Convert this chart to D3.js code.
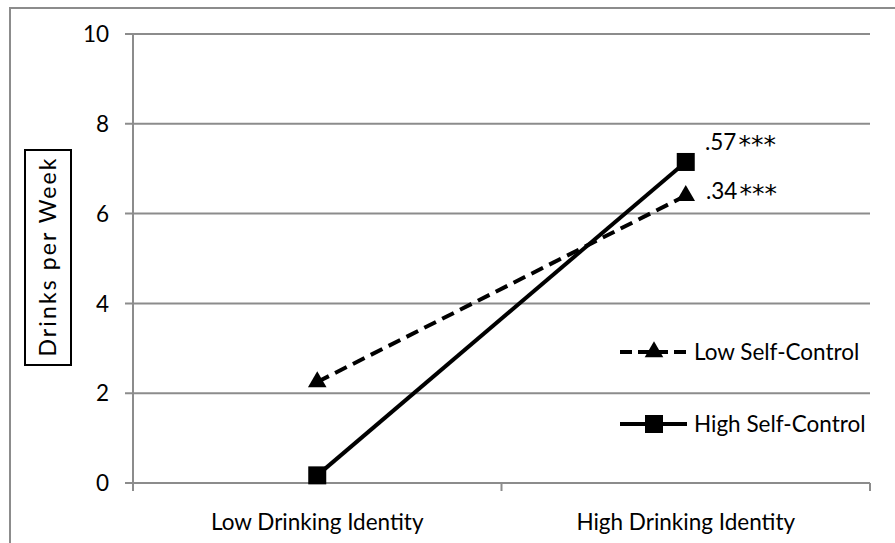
<!DOCTYPE html>
<html>
<head>
<meta charset="utf-8">
<script src="https://cdn.jsdelivr.net/npm/d3@7"></script>
<style>
  body { margin: 0; background: #fff; }
  text { font-family: Lato, "Open Sans", sans-serif; fill: #000; }
</style>
</head>
<body>
<script>
// chart data
var categories = ["Low Drinking Identity", "High Drinking Identity"];
var seriesNames = ["Low Self-Control", "High Self-Control"];
var lowSelfControl = [2.25, 6.4];
var highSelfControl = [0.17, 7.15];
var endLabels = [".34", ".57"];
var endStars = "***";
var yTicks = [0, 2, 4, 6, 8, 10];

var width = 895, height = 543;
var fontSize = "22.5px";

var svg = d3.select("body").append("svg")
    .attr("width", width)
    .attr("height", height);

// outer frame (runs off the right and bottom edge)
svg.append("path")
    .attr("d", "M10," + height + "V8H" + width)
    .attr("fill", "none")
    .attr("stroke", "#8c8c8c")
    .attr("stroke-width", 2);

var x0 = 133, x1 = 870;
var yScale = d3.scaleLinear().domain([0, 10]).range([483, 34]);
var xBand = d3.scaleBand().domain(categories).range([x0, x1]);
var xPos = function(i){ return xBand(categories[i]) + xBand.bandwidth() / 2; };

// gridlines
svg.append("g").selectAll("line")
    .data(yTicks)
    .enter().append("line")
    .attr("x1", x0 - 8).attr("x2", x1)
    .attr("y1", function(d){ return yScale(d); })
    .attr("y2", function(d){ return yScale(d); })
    .attr("stroke", "#8c8c8c")
    .attr("stroke-width", 2);

// y axis line
svg.append("line")
    .attr("x1", x0).attr("x2", x0)
    .attr("y1", yScale(10)).attr("y2", yScale(0) + 8)
    .attr("stroke", "#8c8c8c").attr("stroke-width", 2);

// x axis ticks
svg.append("g").selectAll("line")
    .data([x0, x0 + xBand.bandwidth(), x1])
    .enter().append("line")
    .attr("x1", function(d){ return d; }).attr("x2", function(d){ return d; })
    .attr("y1", yScale(0)).attr("y2", yScale(0) + 8)
    .attr("stroke", "#8c8c8c").attr("stroke-width", 2);

// y tick labels
svg.append("g").selectAll("text")
    .data(yTicks)
    .enter().append("text")
    .attr("x", 109)
    .attr("y", function(d){ return yScale(d); })
    .attr("dy", "0.36em")
    .attr("text-anchor", "end")
    .style("font-size", fontSize)
    .text(function(d){ return d; });

// category labels
svg.append("g").selectAll("text")
    .data(categories)
    .enter().append("text")
    .attr("x", function(d, i){ return xPos(i); })
    .attr("y", 530)
    .attr("text-anchor", "middle")
    .style("font-size", fontSize)
    .text(function(d){ return d; });

// y axis title in a box
var titleG = svg.append("g").attr("transform", "translate(48,257.5) rotate(-90)");
titleG.append("rect")
    .attr("x", -107.5).attr("y", -23)
    .attr("width", 215).attr("height", 46)
    .attr("fill", "#fff").attr("stroke", "#000").attr("stroke-width", 2);
titleG.append("text")
    .attr("text-anchor", "middle")
    .attr("dy", "0.36em")
    .attr("textLength", 198)
    .attr("lengthAdjust", "spacing")
    .style("font-size", "23px")
    .text("Drinks per Week");

var line = d3.line()
    .x(function(d, i){ return xPos(i); })
    .y(function(d){ return yScale(d); });

var tri = d3.symbol().type(d3.symbolTriangle).size(150);

// low self-control (dashed, triangles)
svg.append("path")
    .datum(lowSelfControl)
    .attr("d", line)
    .attr("fill", "none").attr("stroke", "#000")
    .attr("stroke-width", 4).attr("stroke-dasharray", "13,7");
svg.append("g").selectAll("path")
    .data(lowSelfControl)
    .enter().append("path")
    .attr("d", tri)
    .attr("transform", function(d, i){ return "translate(" + xPos(i) + "," + yScale(d) + ")"; })
    .attr("fill", "#000");

// high self-control (solid, squares)
svg.append("path")
    .datum(highSelfControl)
    .attr("d", line)
    .attr("fill", "none").attr("stroke", "#000")
    .attr("stroke-width", 4);
svg.append("g").selectAll("rect")
    .data(highSelfControl)
    .enter().append("rect")
    .attr("x", function(d, i){ return xPos(i) - 9; })
    .attr("y", function(d){ return yScale(d) - 9; })
    .attr("width", 18).attr("height", 18)
    .attr("fill", "#000");

// slope labels
var slopeLabels = svg.append("g").selectAll("text")
    .data(endLabels)
    .enter().append("text")
    .attr("x", function(d, i){ return i === 0 ? 706 : 705; })
    .attr("y", function(d, i){ return i === 0 ? 199 : 150; })
    .style("font-size", fontSize)
    .text(function(d){ return d; });
slopeLabels.append("tspan")
    .attr("dx", 2)
    .attr("dy", 3)
    .style("font-family", "'DejaVu Sans'")
    .style("font-size", "25px")
    .text(endStars);

// legend
var legendY = [352, 424];
var legend = svg.append("g").selectAll("g")
    .data(seriesNames)
    .enter().append("g")
    .attr("transform", function(d, i){ return "translate(620," + legendY[i] + ")"; });
legend.append("line")
    .attr("x1", 0).attr("x2", 67)
    .attr("stroke", "#000").attr("stroke-width", 4)
    .attr("stroke-dasharray", function(d, i){ return i === 0 ? "12,6" : null; });
legend.filter(function(d, i){ return i === 0; }).append("path")
    .attr("d", tri)
    .attr("transform", "translate(34,0)")
    .attr("fill", "#000");
legend.filter(function(d, i){ return i === 1; }).append("rect")
    .attr("x", 25).attr("y", -9).attr("width", 18).attr("height", 18)
    .attr("fill", "#000");
legend.append("text")
    .attr("x", 74).attr("dy", "0.36em")
    .style("font-size", fontSize)
    .text(function(d){ return d; });
</script>
</body>
</html>
